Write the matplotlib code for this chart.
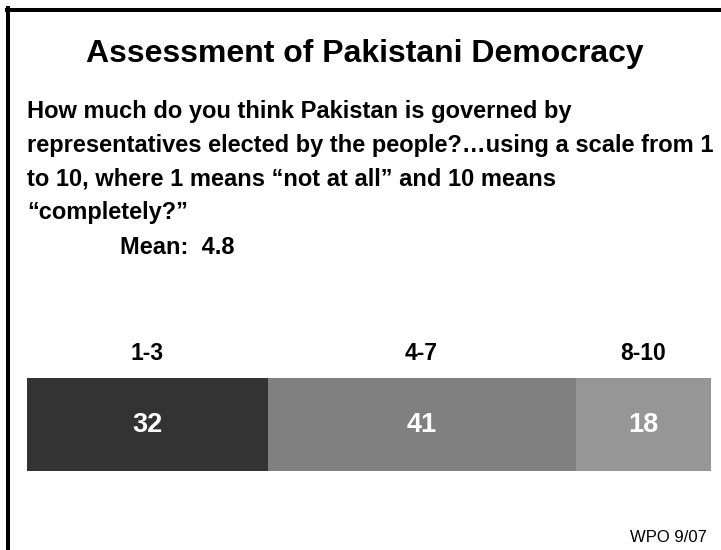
import matplotlib
matplotlib.use("Agg")
import matplotlib.pyplot as plt
from matplotlib.lines import Line2D

# data
groups = ["1-3", "4-7", "8-10"]
values = [32, 41, 18]
colors = ["#333333", "#808080", "#969696"]

title = "Assessment of Pakistani Democracy"
question = ("How much do you think Pakistan is governed by\n"
            "representatives elected by the people?\u2026using a scale from 1\n"
            "to 10, where 1 means \u201cnot at all\u201d and 10 means\n"
            "\u201ccompletely?\u201d")
mean_text = "Mean:  4.8"
source = "WPO 9/07"

W, H = 721, 550
plt.rcParams['font.family'] = ['Liberation Sans', 'DejaVu Sans']
fig = plt.figure(figsize=(W / 100, H / 100), dpi=100)

def fx(x):
    return x / W

def fy(y):
    return 1 - y / H

# frame lines (left and top only)
fig.add_artist(Line2D([fx(8), fx(8)], [fy(8), 0], color='black', lw=2.9))
fig.add_artist(Line2D([fx(6.5), 1], [fy(9.5), fy(9.5)], color='black', lw=2.9))

fig.text(fx(365), fy(54), title, ha='center', va='center',
         fontsize=23, fontweight='bold')
fig.text(fx(27), fy(100), question, ha='left', va='top',
         fontsize=17, fontweight='bold', linespacing=1.6)
fig.text(fx(120), fy(247), mean_text, ha='left', va='center',
         fontsize=17, fontweight='bold')
fig.text(fx(707), fy(538), source, ha='right', va='center', fontsize=12)

# stacked bar
ax = fig.add_axes([fx(27), fy(471), fx(711) - fx(27), (471 - 378) / H])
left = 0
for g, v, c in zip(groups, values, colors):
    ax.barh(0, v, left=left, height=1, color=c, edgecolor='none')
    ax.text(left + v / 2, 0, str(v), ha='center', va='center',
            color='white', fontsize=19.5, fontweight='bold')
    ax.text(left + v / 2, 0.5 + 25 / 93, g, ha='center', va='center',
            color='black', fontsize=16.5, fontweight='bold', clip_on=False)
    left += v
ax.set_xlim(0, sum(values))
ax.set_ylim(-0.5, 0.5)
ax.axis('off')

fig.savefig("out.png", dpi=100)
